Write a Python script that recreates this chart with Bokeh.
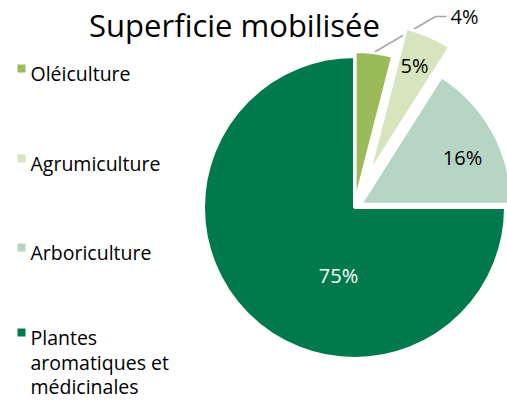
import math
from bokeh.plotting import figure
from bokeh.models import Range1d
from bokeh.embed import file_html
from bokeh.resources import INLINE
from bokeh.core.properties import value

# ---- data ----
categories = ["Oléiculture", "Agrumiculture", "Arboriculture", "Plantes aromatiques et médicinales"]
shares = [4, 5, 16, 75]
labels = ["4%", "5%", "16%", "75%"]
legend_lines = [["Oléiculture"], ["Agrumiculture"], ["Arboriculture"], ["Plantes", "aromatiques et", "médicinales"]]
title = "Superficie mobilisée"

# ---- style ----
colors = ["#9BBB59", "#D7E4BD", "#B7D5C4", "#007A4D"]
label_colors = ["#000000", "#000000", "#000000", "#FFFFFF"]
explode = [5, 36, 7, 0]
FONT = "Open Sans"
W, H = 507, 401

def Y(py):
    return H - py

cx, cy, R = 354, 207, 151
# label offsets (dx, dy in pixel space from pie centre), baseline anchored
label_off = [(110, -191), (60, -142), (108, -50), (-16, 68)]

p = figure(width=W, height=H, output_backend="svg", toolbar_location=None,
           x_range=Range1d(0, W), y_range=Range1d(0, H), min_border=0)
p.axis.visible = False
p.grid.visible = False
p.outline_line_color = None
p.background_fill_color = "white"

total = sum(shares)
cum = 0.0
for i, s in enumerate(shares):
    a0 = cum / total * 2 * math.pi
    a1 = (cum + s) / total * 2 * math.pi
    mid = (a0 + a1) / 2
    cum += s
    ox = cx + explode[i] * math.sin(mid)
    oy = cy - explode[i] * math.cos(mid)
    p.wedge(x=[ox], y=[Y(oy)], radius=R,
            start_angle=math.pi / 2 - a0, end_angle=math.pi / 2 - a1, direction="clock",
            fill_color=colors[i], line_color="white", line_width=3)
    lx, ly = cx + label_off[i][0], cy + label_off[i][1]
    p.text(x=[lx], y=[Y(ly)], text=[labels[i]], text_align="center", text_baseline="alphabetic",
           text_font=value(FONT), text_font_size="20px", text_color=label_colors[i])
    if i == 0:
        ex = ox + R * math.sin(mid)
        ey = oy - R * math.cos(mid)
        p.line(x=[ex + 1, lx - 29, lx - 18], y=[Y(ey - 1), Y(ly), Y(ly)],
               line_color="#A6A6A6", line_width=1.5)

# title
p.text(x=[234], y=[Y(24)], text=[title], text_align="center", text_baseline="alphabetic",
       text_font=value(FONT), text_font_size="31px", text_color="#000000")

# legend
legend_base = [73, 163, 252, 337]
line_h = 24.5
for i, lines in enumerate(legend_lines):
    b = legend_base[i]
    p.rect(x=[21], y=[Y(b - 5)], width=8, height=8, fill_color=colors[i], line_color=None)
    for j, t in enumerate(lines):
        p.text(x=[30], y=[Y(b + j * line_h)], text=[t], text_align="left", text_baseline="alphabetic",
               text_font=value(FONT), text_font_size="19.5px", text_color="#000000")

open("out.html", "w").write(file_html(p, INLINE))
